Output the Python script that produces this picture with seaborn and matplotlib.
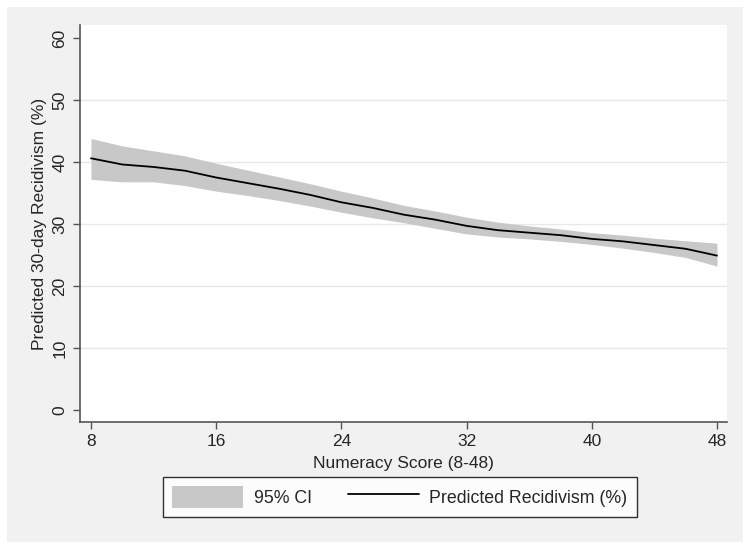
import matplotlib
matplotlib.use("Agg")
import matplotlib.pyplot as plt
import seaborn as sns
import pandas as pd
from matplotlib.patches import Patch, Rectangle
from matplotlib.lines import Line2D

numeracy = [8, 10, 12, 14, 16, 18, 20, 22, 24, 26, 28, 30, 32, 34, 36, 38, 40, 42, 44, 46, 48]
predicted = [40.6, 39.6, 39.2, 38.6, 37.5, 36.6, 35.7, 34.7, 33.5, 32.6, 31.5, 30.7, 29.7, 29.0, 28.6, 28.2, 27.6, 27.2, 26.6, 26.0, 24.9]
ci_lower = [37.2, 36.8, 36.8, 36.2, 35.3, 34.6, 33.8, 32.9, 31.9, 31.0, 30.2, 29.3, 28.4, 27.9, 27.6, 27.2, 26.7, 26.1, 25.4, 24.6, 23.2]
ci_upper = [43.8, 42.6, 41.8, 41.0, 39.8, 38.7, 37.6, 36.5, 35.3, 34.2, 33.0, 32.1, 31.1, 30.3, 29.7, 29.2, 28.6, 28.2, 27.7, 27.3, 26.9]
x_ticks = [8, 16, 24, 32, 40, 48]
y_ticks = [0, 10, 20, 30, 40, 50, 60]

df = pd.DataFrame({"x": numeracy, "y": predicted, "lo": ci_lower, "hi": ci_upper})

sns.set_theme(style="white")
plt.rcParams['font.family'] = ['Liberation Sans', 'DejaVu Sans']

FS = 12.5

fig = plt.figure(figsize=(7.5, 5.49), dpi=100)
fig.patch.set_facecolor("white")
# light gray panel
fig.patches.append(Rectangle((7/750, 1-542/549), 736/750, 535/549, transform=fig.transFigure,
                             facecolor="#f1f1f1", edgecolor="none", zorder=-5))

ax = fig.add_axes([80/750, 1-422/549, 647/750, 397/549])
ax.set_zorder(2)
ax.set_facecolor("white")

for g in [10, 20, 30, 40, 50]:
    ax.axhline(g, color="#e8e8e8", lw=1.0, zorder=0)

ax.fill_between(df["x"], df["lo"], df["hi"], color="#c8c8c8", lw=0, zorder=1)
sns.lineplot(data=df, x="x", y="y", ax=ax, color="black", lw=1.3, zorder=2)

ax.set_xlim(7.30, 48.64)
ax.set_ylim(-1.94, 62.1)
ax.set_xticks(x_ticks)
ax.set_yticks(y_ticks)
ax.set_xticklabels([str(t) for t in x_ticks], fontsize=FS)
ax.set_yticklabels([str(t) for t in y_ticks], fontsize=FS, rotation=90, va="center")
ax.tick_params(axis="both", direction="out", length=5, width=1, color="#555555", pad=4, bottom=True, left=True)

for s in ["top", "right"]:
    ax.spines[s].set_visible(False)
for s in ["left", "bottom"]:
    ax.spines[s].set_color("#555555")
    ax.spines[s].set_linewidth(1.2)

ax.set_xlabel("Numeracy Score (8-48)", fontsize=FS, labelpad=5)
ax.set_ylabel("Predicted 30-day Recidivism (%)", fontsize=FS, labelpad=4)

handles = [Patch(facecolor="#c8c8c8", edgecolor="none"), Line2D([0], [0], color="black", lw=1.3)]
leg = fig.legend(handles, ["95% CI", "Predicted Recidivism (%)"], loc="center",
                 bbox_to_anchor=(400/750, 1-497/549), ncol=2, frameon=True, fontsize=12.8,
                 handlelength=4.0, handleheight=1.6, handletextpad=0.6, columnspacing=2.0,
                 borderpad=0.5, borderaxespad=0, fancybox=False)
leg.get_frame().set_edgecolor("black")
leg.get_frame().set_linewidth(1.0)
leg.get_frame().set_facecolor("white")

fig.savefig("out.png", dpi=100, facecolor=fig.get_facecolor())
